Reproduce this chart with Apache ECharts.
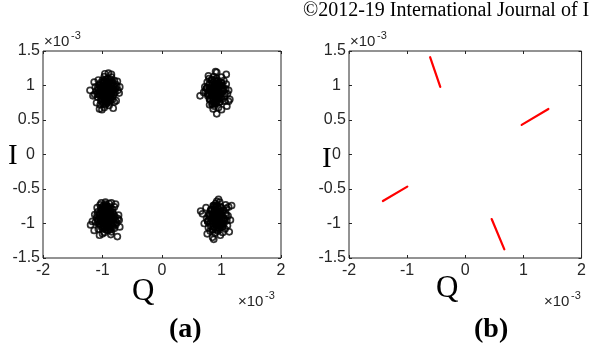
<!DOCTYPE html>
<html><head><meta charset="utf-8">
<script src="https://cdn.jsdelivr.net/npm/echarts@6/dist/echarts.min.js"></script>
<style>html,body{margin:0;padding:0;background:#fff}#c{width:589px;height:347px}</style>
</head><body><div id="c"></div>
<script>
// values in units of 1e-3
const xRange = [-2, 2];
const yRange = [-1.5, 1.5];
const xStep = 1;
const yStep = 0.5;

const clusterTL = [[-0.93,0.93],[-0.88,0.97],[-0.98,0.89],[-1.02,0.95],[-0.85,0.88],[-0.95,1.02],[-0.9,0.84],[-1.05,0.86],[-0.82,0.95],[-0.97,0.8],[-0.88,1.06],[-1.06,1.01],[-0.79,0.9],[-0.92,0.76],[-1.0,1.08],[-0.84,1.03],[-1.1,0.92],[-0.76,0.99],[-0.95,0.72],[-0.86,0.79],[-1.03,0.78],[-0.91,1.1],[-1.08,0.83],[-0.8,1.07],[-0.99,0.97],[-0.87,0.92],[-0.94,0.86],[-1.01,0.9],[-0.9,0.99],[-0.83,0.84],[-1.12,0.98],[-0.74,0.93],[-1.07,1.08],[-0.97,1.13],[-0.85,1.12],[-1.04,0.72],[-0.89,0.71],[-0.8,0.76],[-0.78,1.02],[-1.13,0.87],
  [-0.93,0.88],[-0.96,0.94],[-0.9,0.9],[-0.87,0.86],[-0.99,0.85],[-1.04,0.92],[-0.86,0.96],[-0.92,1.0],[-0.98,1.03],[-1.03,1.04],[-0.82,1.0],[-0.81,0.87],[-0.89,0.81],[-0.95,0.79],[-1.0,0.76],[-1.07,0.94],[-1.09,0.88],[-0.87,1.09],[-0.94,1.06],[-0.83,0.8],[-0.96,0.84],[-1.02,0.82],[-0.91,0.95],[-0.85,0.92],[-1.0,0.99],[-0.78,0.96],[-0.93,0.74],[-0.88,0.76],[-1.05,1.0],[-0.97,1.07],
  [-0.92,0.91],[-0.95,0.97],[-0.89,0.87],[-0.97,0.92],[-0.91,1.03],[-1.0,0.87],[-0.84,0.9],[-0.88,0.94],[-1.03,0.98],[-0.96,0.77],[-0.9,0.78],[-0.86,1.01],[-0.99,1.05],[-1.06,0.89],[-0.81,0.93],[-0.94,1.09],[-0.92,0.83],[-1.01,0.8],[-0.87,0.83],[-0.83,1.05],[-1.08,0.97],[-0.98,0.74],[-0.93,0.97],[-0.96,0.9],[-0.89,1.04],
  [-1.21,0.93],[-1.16,0.85],[-1.05,0.66],[-1.01,0.65],[-0.97,0.68],[-0.82,0.67],[-0.9,1.18],[-0.85,1.16],[-0.96,1.17],[-0.71,0.98],[-0.72,0.89],[-0.75,1.06],[-1.14,1.05],[-1.1,0.75],[-0.77,0.78]];
const clusterTR = [[0.9,0.92],[0.95,0.96],[0.85,0.88],[0.82,0.95],[0.98,0.87],[0.88,1.02],[0.93,0.82],[0.78,0.9],[1.02,0.93],[0.86,0.79],[0.96,1.05],[0.8,1.03],[1.05,0.84],[0.91,0.74],[0.83,1.08],[1.0,1.0],[0.75,0.96],[1.07,0.95],[0.88,0.7],[0.97,0.76],[0.8,0.8],[0.92,1.1],[0.77,0.85],[1.04,1.07],[0.86,0.97],[0.94,0.89],[0.89,0.84],[0.83,0.91],[0.99,0.95],[1.01,0.8],[0.73,0.92],[1.1,0.88],[0.79,1.1],[0.87,1.13],[1.0,1.12],[0.84,0.73],[0.95,0.68],[1.06,0.77],[1.08,1.02],[0.76,1.05],
  [0.9,0.88],[0.93,0.94],[0.87,0.9],[0.84,0.86],[0.96,0.85],[1.01,0.92],[0.83,0.96],[0.89,1.0],[0.95,1.03],[1.0,1.04],[0.79,1.0],[0.78,0.87],[0.86,0.81],[0.92,0.79],[0.97,0.76],[1.04,0.94],[1.06,0.88],[0.84,1.09],[0.91,1.06],[0.8,0.8],[0.93,0.84],[0.99,0.82],[0.88,0.95],[0.82,0.92],[0.97,0.99],[0.75,0.96],[0.9,0.74],[0.85,0.76],[1.02,1.0],[0.94,1.07],
  [0.91,0.9],[0.88,0.96],[0.94,0.86],[0.86,0.91],[0.92,1.02],[0.83,0.86],[0.99,0.89],[0.95,0.93],[0.8,0.97],[0.87,0.76],[0.93,0.77],[0.97,1.0],[0.84,1.04],[0.77,0.88],[1.02,0.92],[0.89,1.08],[0.91,0.82],[0.82,0.79],[0.96,0.82],[1.0,1.04],[0.75,0.96],[0.85,0.73],[0.9,0.96],[0.87,0.89],[0.94,1.03],
  [0.64,0.85],[0.7,0.9],[0.92,0.59],[1.08,1.16],[0.9,1.2],[0.92,1.19],[1.14,0.8],[1.12,0.77],[0.86,0.66],[1.0,0.65],[0.78,1.14],[0.72,0.98],[1.12,0.93],[0.8,0.72],[1.09,0.7]];
const clusterBL = [[-0.93,-0.93],[-0.88,-0.97],[-0.98,-0.89],[-1.02,-0.95],[-0.85,-0.88],[-0.95,-1.02],[-0.9,-0.84],[-1.05,-0.86],[-0.82,-0.95],[-0.97,-0.8],[-0.88,-1.06],[-1.06,-1.01],[-0.79,-0.9],[-0.92,-0.76],[-1.0,-1.08],[-0.84,-1.03],[-1.1,-0.92],[-0.76,-0.99],[-0.95,-0.72],[-0.86,-0.79],[-1.03,-0.78],[-0.91,-1.1],[-1.08,-0.83],[-0.8,-1.07],[-0.99,-0.97],[-0.87,-0.92],[-0.94,-0.86],[-1.01,-0.9],[-0.9,-0.99],[-0.83,-0.84],[-1.12,-0.98],[-0.74,-0.93],[-1.07,-1.08],[-0.97,-1.13],[-0.85,-1.12],[-1.04,-0.73],[-0.89,-0.71],[-0.8,-0.76],[-0.78,-1.02],[-1.13,-0.87],
  [-0.93,-0.88],[-0.96,-0.94],[-0.9,-0.9],[-0.87,-0.86],[-0.99,-0.85],[-1.04,-0.92],[-0.86,-0.96],[-0.92,-1.0],[-0.98,-1.03],[-1.03,-1.04],[-0.82,-1.0],[-0.81,-0.87],[-0.89,-0.81],[-0.95,-0.79],[-1.0,-0.76],[-1.07,-0.94],[-1.09,-0.88],[-0.87,-1.09],[-0.94,-1.06],[-0.83,-0.8],[-0.96,-0.84],[-1.02,-0.82],[-0.91,-0.95],[-0.85,-0.92],[-1.0,-0.99],[-0.78,-0.96],[-0.93,-0.74],[-0.88,-0.76],[-1.05,-1.0],[-0.97,-1.07],
  [-0.92,-0.91],[-0.95,-0.97],[-0.89,-0.87],[-0.97,-0.92],[-0.91,-1.03],[-1.0,-0.87],[-0.84,-0.9],[-0.88,-0.94],[-1.03,-0.98],[-0.96,-0.77],[-0.9,-0.78],[-0.86,-1.01],[-0.99,-1.05],[-1.06,-0.89],[-0.81,-0.93],[-0.94,-1.09],[-0.92,-0.83],[-1.01,-0.8],[-0.87,-0.83],[-0.83,-1.05],[-1.08,-0.97],[-0.98,-0.74],[-0.93,-0.97],[-0.96,-0.9],[-0.89,-1.04],
  [-1.2,-1.02],[-1.17,-0.97],[-1.05,-1.17],[-1.0,-1.15],[-0.75,-1.19],[-0.86,-1.16],[-0.95,-0.69],[-0.85,-0.7],[-1.02,-0.7],[-0.72,-0.95],[-0.73,-0.88],[-0.78,-0.72],[-1.14,-1.1],[-1.09,-0.77],[-0.71,-1.05]];
const clusterBR = [[0.92,-0.93],[0.97,-0.97],[0.87,-0.89],[0.84,-0.96],[1.0,-0.88],[0.9,-1.02],[0.95,-0.83],[0.8,-0.91],[1.04,-0.94],[0.88,-0.8],[0.98,-1.06],[0.82,-1.04],[1.07,-0.85],[0.93,-0.75],[0.85,-1.09],[1.02,-1.01],[0.77,-0.97],[1.09,-0.96],[0.9,-0.71],[0.99,-0.77],[0.82,-0.81],[0.94,-1.11],[0.79,-0.86],[1.06,-1.08],[0.88,-0.98],[0.96,-0.9],[0.91,-0.85],[0.85,-0.92],[1.01,-0.96],[1.03,-0.81],[0.75,-0.93],[1.11,-0.89],[0.81,-1.11],[0.89,-1.14],[1.02,-1.13],[0.86,-0.74],[0.97,-0.69],[1.08,-0.78],[1.1,-1.03],[0.78,-1.06],
  [0.92,-0.88],[0.95,-0.94],[0.89,-0.9],[0.86,-0.86],[0.98,-0.85],[1.03,-0.92],[0.85,-0.96],[0.91,-1.0],[0.97,-1.03],[1.02,-1.04],[0.81,-1.0],[0.8,-0.87],[0.88,-0.81],[0.94,-0.79],[0.99,-0.76],[1.06,-0.94],[1.08,-0.88],[0.86,-1.09],[0.93,-1.06],[0.82,-0.8],[0.95,-0.84],[1.01,-0.82],[0.9,-0.95],[0.84,-0.92],[0.99,-0.99],[0.77,-0.96],[0.92,-0.74],[0.87,-0.76],[1.04,-1.0],[0.96,-1.07],
  [0.93,-0.91],[0.9,-0.97],[0.96,-0.87],[0.88,-0.92],[0.94,-1.03],[0.85,-0.87],[1.01,-0.9],[0.97,-0.94],[0.82,-0.98],[0.89,-0.77],[0.95,-0.78],[0.99,-1.01],[0.86,-1.05],[0.79,-0.89],[1.04,-0.93],[0.91,-1.09],[0.93,-0.83],[0.84,-0.8],[0.98,-0.83],[1.02,-1.05],[0.77,-0.97],[0.87,-0.74],[0.92,-0.97],[0.89,-0.9],[0.96,-1.04],
  [0.95,-0.65],[0.92,-0.68],[1.17,-0.74],[1.12,-0.76],[0.87,-1.23],[0.85,-1.2],[0.65,-0.82],[0.68,-0.86],[1.07,-0.73],[0.74,-0.77],[1.13,-1.12],[0.71,-1.0],[1.15,-0.95],[0.98,-1.17],[0.76,-1.15]];

// right panel: four streaks (start, end)
const streakTop = [[-0.605,1.41],[-0.43,0.98]];
const streakRight = [[0.97,0.43],[1.43,0.66]];
const streakLeft = [[-1.417,-0.674],[-0.997,-0.465]];
const streakBottom = [[0.454,-0.935],[0.672,-1.374]];

const TXT = '#262626';
const SANS = '"Liberation Sans", Arial, sans-serif';
const SERIF = '"Liberation Serif", "Times New Roman", serif';
const FS = 16;

const chart = echarts.init(document.getElementById('c'), null, {renderer:'canvas'});

function grid(left){ return {left:left, top:51, width:238, height:207, show:true, borderColor:TXT, borderWidth:1, backgroundColor:'#fff'}; }
const tick = {inside:true, length:3, lineStyle:{color:TXT}};
function xAxes(gi){
  return [
    {type:'value', gridIndex:gi, position:'bottom', min:xRange[0], max:xRange[1], interval:xStep,
     axisLine:{show:false, onZero:false}, splitLine:{show:false}, axisTick:tick,
     axisLabel:{margin:5, fontSize:FS, color:TXT, fontFamily:SANS}},
    {type:'value', gridIndex:gi, position:'top', min:xRange[0], max:xRange[1], interval:xStep,
     axisLine:{show:false, onZero:false}, splitLine:{show:false}, axisTick:tick, axisLabel:{show:false}}
  ];
}
function yAxes(gi){
  return [
    {type:'value', gridIndex:gi, position:'left', min:yRange[0], max:yRange[1], interval:yStep,
     axisLine:{show:false, onZero:false}, splitLine:{show:false}, axisTick:tick,
     axisLabel:{margin:3, color:TXT,
       formatter: v => Number.isInteger(v) ? '{i|' + v + '}' : '{d|' + v + '}',
       rich:{i:{fontSize:FS, color:TXT, fontFamily:SANS, padding:[0,5,0,0]},
             d:{fontSize:FS, color:TXT, fontFamily:SANS}}}},
    {type:'value', gridIndex:gi, position:'right', min:yRange[0], max:yRange[1], interval:yStep,
     axisLine:{show:false, onZero:false}, splitLine:{show:false}, axisTick:tick, axisLabel:{show:false}}
  ];
}

const scatterStyle = {color:'rgba(0,0,0,0)', borderColor:'#000', borderWidth:1.7};
function cluster(d){ return {type:'scatter', xAxisIndex:0, yAxisIndex:0, data:d, symbol:'circle', symbolSize:6, itemStyle:scatterStyle, silent:true}; }
function streak(d){ return {type:'line', xAxisIndex:2, yAxisIndex:2, data:d, showSymbol:false, lineStyle:{color:'#ff0000', width:2.2, cap:'round'}, silent:true}; }

function times10(x, y){
  return [
    {type:'text', left:x, top:y + 4, style:{text:'×10', font:'15px ' + SANS, fill:TXT}},
    {type:'text', left:x + 27, top:y, style:{text:'-3', font:'11px ' + SANS, fill:TXT}}
  ];
}

chart.setOption({
  animation:false,
  backgroundColor:'#fff',
  grid:[grid(43), grid(349)],
  xAxis:[...xAxes(0), ...xAxes(1)],
  yAxis:[...yAxes(0), ...yAxes(1)],
  series:[cluster(clusterTL), cluster(clusterTR), cluster(clusterBL), cluster(clusterBR),
          streak(streakTop), streak(streakRight), streak(streakLeft), streak(streakBottom)],
  graphic:[
    {type:'text', left:303, top:1, style:{text:'©2012-19 International Journal of I', font:'20px ' + SERIF, fill:'#000'}},
    ...times10(44, 30), ...times10(350, 30),
    ...times10(238, 290), ...times10(544, 290),
    {type:'text', left:8, top:142, style:{text:'I', font:'29px ' + SERIF, fill:'#000'}},
    {type:'text', left:322, top:145, style:{text:'I', font:'29px ' + SERIF, fill:'#000'}},
    {type:'text', left:132, top:276, style:{text:'Q', font:'31px ' + SERIF, fill:'#000'}},
    {type:'text', left:436, top:273, style:{text:'Q', font:'31px ' + SERIF, fill:'#000'}},
    {type:'text', left:169, top:316, style:{text:'(a)', font:'bold 28px ' + SERIF, fill:'#000'}},
    {type:'text', left:474, top:316, style:{text:'(b)', font:'bold 28px ' + SERIF, fill:'#000'}}
  ]
});
</script></body></html>
